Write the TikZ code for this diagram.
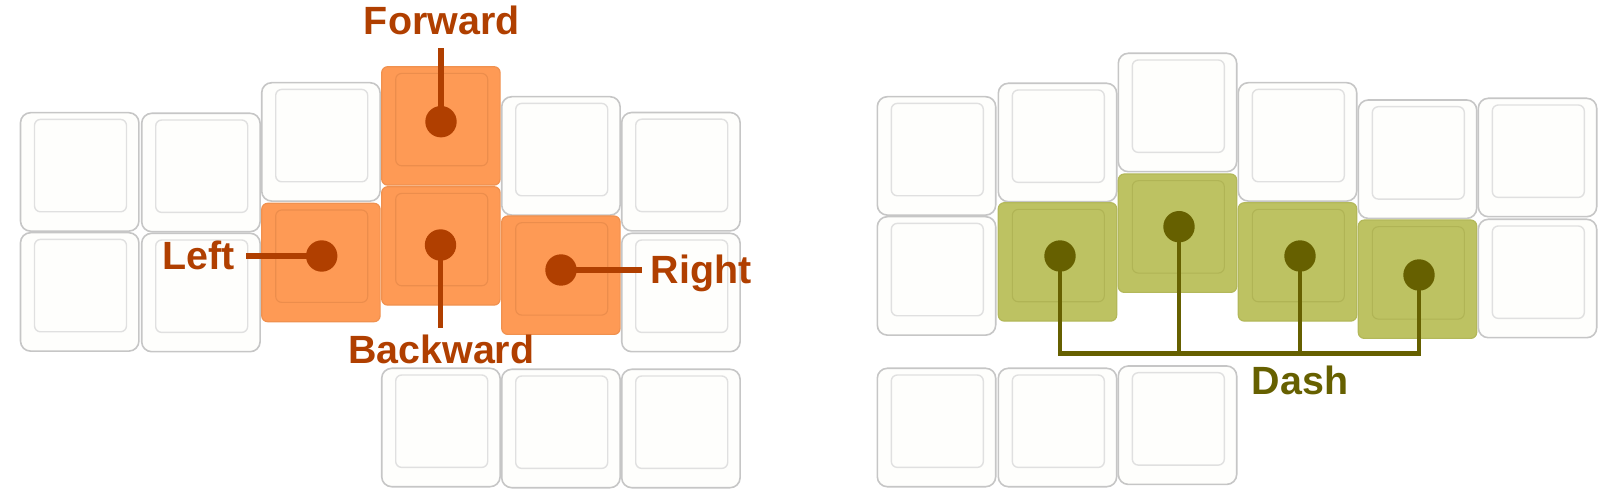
\documentclass[tikz,border=0pt]{standalone}
\usepackage{fontspec}
\setmainfont{Liberation Sans}
\definecolor{keyborder}{HTML}{C6C6C6}
\definecolor{keyfill}{HTML}{FEFEFC}
\definecolor{keyinner}{HTML}{E0E0E0}
\definecolor{orfill}{HTML}{FE9A55}
\definecolor{orborder}{HTML}{F0914F}
\definecolor{orinner}{HTML}{EC8D4C}
\definecolor{ordark}{HTML}{B03F00}
\definecolor{grfill}{HTML}{BDC262}
\definecolor{grborder}{HTML}{B3B85A}
\definecolor{grinner}{HTML}{B0B455}
\definecolor{grdark}{HTML}{666000}
\tikzset{
  keyout/.style={draw=keyborder, line width=1.6pt, fill=keyfill, rounded corners=10pt},
  keyin/.style={draw=keyinner, line width=1.4pt, rounded corners=6pt},
  orout/.style={draw=orborder, line width=1.2pt, fill=orfill, rounded corners=6pt},
  orin/.style={draw=orinner, line width=1.1pt, rounded corners=6pt},
  grout/.style={draw=grborder, line width=1.2pt, fill=grfill, rounded corners=6pt},
  grin/.style={draw=grinner, line width=1.1pt, rounded corners=6pt},
  odot/.style={circle, fill=ordark, inner sep=0pt, minimum size=31.4pt},
  gdot/.style={circle, fill=grdark, inner sep=0pt, minimum size=31.4pt},
  oline/.style={draw=ordark, line width=5.2pt},
  gline/.style={draw=grdark, line width=4.8pt},
  olabel/.style={text=ordark, inner sep=0pt, font=\fontsize{39.4}{40}\selectfont\bfseries},
  glabel/.style={text=grdark, inner sep=0pt, font=\fontsize{39.4}{40}\selectfont\bfseries},
}
\newcommand{\kcap}[3]{%
  \path[#3out] (#1,#2) rectangle ++(118.4,118.4);
  \path[#3in] (#1+14,#2+6.7) rectangle ++(92,92.4);
}
\begin{document}
\begin{tikzpicture}[x=1pt,y=-1pt]
\useasboundingbox (0,0) rectangle (1614,502);
% ---------- left half ----------
\kcap{20.5}{112.7}{key}
\kcap{20.5}{232.7}{key}
\kcap{141.7}{113.3}{key}
\kcap{141.7}{233.3}{key}
\kcap{261.7}{82.7}{key}
\kcap{261.7}{203.3}{or}
\kcap{381.7}{66.7}{or}
\kcap{381.7}{186.7}{or}
\kcap{381.7}{368.3}{key}
\kcap{501.7}{96.7}{key}
\kcap{501.7}{216}{or}
\kcap{501.7}{369.3}{key}
\kcap{621.7}{112.5}{key}
\kcap{621.7}{233.3}{key}
\kcap{621.7}{369.3}{key}
% ---------- right half ----------
\kcap{877.3}{96.7}{key}
\kcap{877.3}{216.7}{key}
\kcap{877.3}{368.3}{key}
\kcap{998.3}{83.3}{key}
\kcap{998.3}{202.7}{gr}
\kcap{998.3}{368.3}{key}
\kcap{1118.3}{53.3}{key}
\kcap{1118.3}{174}{gr}
\kcap{1118.3}{366}{key}
\kcap{1238.3}{82.7}{key}
\kcap{1238.3}{202.7}{gr}
\kcap{1358.3}{100}{key}
\kcap{1358.3}{220}{gr}
\kcap{1478.3}{98.3}{key}
\kcap{1478.3}{219.3}{key}
% ---------- orange labels ----------
\node[olabel, anchor=base] (flbl) at (441.7,35) {Forward};
\node[olabel, anchor=base] (llbl) at (198.7,269.3) {Left};
\node[olabel, anchor=base] (rlbl) at (701.2,284) {Right};
\node[olabel, anchor=base] (blbl) at (441.3,363.3) {Backward};
\node[odot] (fdot) at (441,121.7) {};
\node[odot] (ldot) at (321.7,256) {};
\node[odot] (bdot) at (440.5,245) {};
\node[odot] (rdot) at (561,270) {};
\coordinate (fend) at (441,47.7);
\coordinate (lend) at (246,256);
\coordinate (bend) at (440.5,328.3);
\coordinate (rend) at (641.7,270);
\draw[oline] (fdot.center) -- (fend);
\draw[oline] (ldot.center) -- (lend);
\draw[oline] (bdot.center) -- (bend);
\draw[oline] (rdot.center) -- (rend);
% ---------- green ----------
\node[gdot] (g1) at (1060,256) {};
\node[gdot] (g2) at (1179,226.7) {};
\node[gdot] (g3) at (1300,256) {};
\node[gdot] (g4) at (1419,275) {};
\coordinate (barL) at (1060,353.3);
\coordinate (barR) at (1419,353.3);
\draw[gline, line join=miter] (g1.center) -- (barL) -- (barR) -- (g4.center);
\draw[gline] (g2.center) -- (g2|-barL);
\draw[gline] (g3.center) -- (g3|-barL);
\node[glabel, anchor=base] (dlbl) at (1300,394.3) {Dash};
\end{tikzpicture}
\end{document}
